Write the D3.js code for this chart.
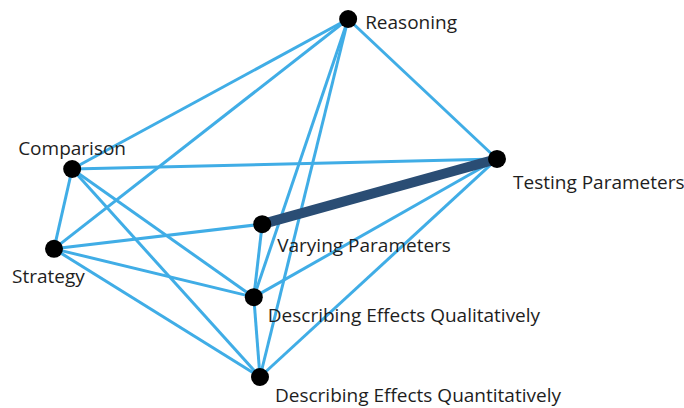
<!DOCTYPE html>
<html>
<head>
<meta charset="utf-8">
<script src="https://cdn.jsdelivr.net/npm/d3@7"></script>
<style>
  body { margin: 0; background: #fff; }
  svg { display: block; }
</style>
</head>
<body>
<script>
// Node names and layout positions (0-10 layout units)
var nodeNames = ["Reasoning", "Comparison", "Testing Parameters", "Strategy",
                 "Varying Parameters", "Describing Effects Qualitatively",
                 "Describing Effects Quantitatively"];
var nodeX = [6.64, 0.41, 10, 0, 4.70, 4.51, 4.65];
var nodeY = [0, 4.19, 3.91, 6.42, 5.73, 7.77, 10];

// Edges as index pairs, and weight (1 = normal, 3 = strong)
var edgeSource = [0, 0, 0, 0, 0, 1, 1, 1, 1, 3, 3, 3, 4, 4, 5, 5, 6];
var edgeTarget = [1, 3, 2, 5, 6, 2, 3, 5, 6, 4, 5, 6, 2, 5, 2, 6, 2];
var edgeWeight = [1, 1, 1, 1, 1, 1, 1, 1, 1, 1, 1, 1, 3, 1, 1, 1, 1];

function networkChart() {
  var w = 684;
  var h = 408;

  var svg = d3.select("body")
              .append("svg")
              .attr("width", w)
              .attr("height", h);

  var x = d3.scaleLinear().domain([0, 10]).range([54, 497]);
  var y = d3.scaleLinear().domain([0, 10]).range([19, 377]);

  var nodes = nodeNames.map(function (name, i) {
    return { name: name, x: nodeX[i], y: nodeY[i] };
  });
  var edges = edgeSource.map(function (s, i) {
    return { source: nodes[s], target: nodes[edgeTarget[i]], weight: edgeWeight[i] };
  });

  // label offsets from node centre (px)
  var labelDx = [17, -54, 16, -42, 15, 14, 15];
  var labelDy = [10, -14, 30, 34, 28, 25, 25];

  // draw thin edges first, strong edge on top
  edges.sort(function (a, b) { return a.weight - b.weight; });

  svg.selectAll("line")
    .data(edges)
    .enter()
    .append("line")
    .attr("x1", function (d) { return x(d.source.x); })
    .attr("y1", function (d) { return y(d.source.y); })
    .attr("x2", function (d) { return x(d.target.x); })
    .attr("y2", function (d) { return y(d.target.y); })
    .attr("stroke", function (d) { return d.weight > 1 ? "#2a4d74" : "#40ade6"; })
    .attr("stroke-width", function (d) { return d.weight > 1 ? 10 : 3; });

  svg.selectAll("circle")
    .data(nodes)
    .enter()
    .append("circle")
    .attr("cx", function (d) { return x(d.x); })
    .attr("cy", function (d) { return y(d.y); })
    .attr("r", 9)
    .attr("fill", "black");

  svg.selectAll("text")
    .data(nodes)
    .enter()
    .append("text")
    .text(function (d) { return d.name; })
    .attr("x", function (d, i) { return x(d.x) + labelDx[i]; })
    .attr("y", function (d, i) { return y(d.y) + labelDy[i]; })
    .attr("font-family", "'Open Sans', sans-serif")
    .attr("font-size", "19px")
    .attr("fill", "#1e1e1e");
}

networkChart();
</script>
</body>
</html>
